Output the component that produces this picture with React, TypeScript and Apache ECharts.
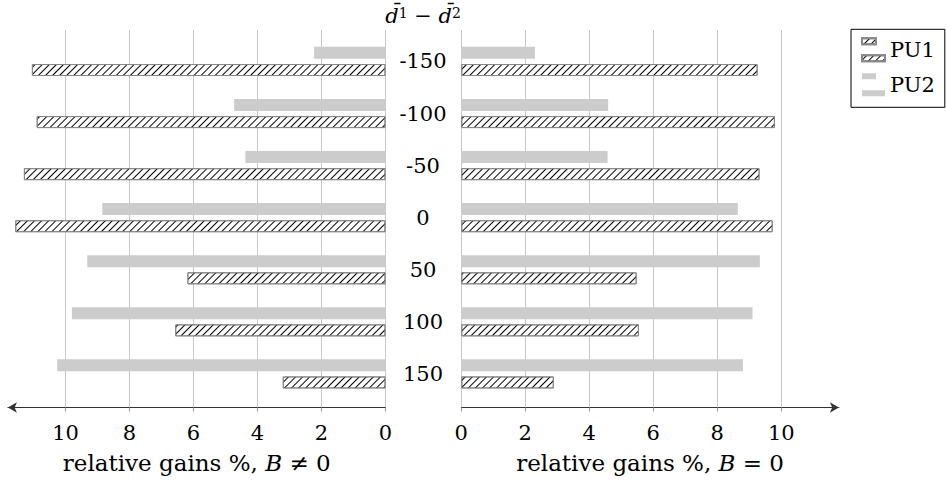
import React, { useEffect, useRef } from "react";
import * as echarts from "echarts";

const categories = ["-150", "-100", "-50", "0", "50", "100", "150"];
const leftPU1 = [11.05, 10.9, 11.3, 11.57, 6.19, 6.57, 3.21];
const leftPU2 = [2.23, 4.73, 4.38, 8.85, 9.32, 9.8, 10.26];
const rightPU1 = [9.26, 9.8, 9.32, 9.73, 5.48, 5.55, 2.89];
const rightPU2 = [2.3, 4.59, 4.57, 8.64, 9.33, 9.1, 8.8];
const tickValues = [0, 2, 4, 6, 8, 10];

const FONT = "DejaVu Serif";
const FS = 21;
const NFS = 23;

export default function App() {
  const ref = useRef<HTMLDivElement>(null);
  useEffect(() => {
    document.body.style.margin = "0";
    const chart = echarts.init(ref.current!, null, { renderer: "svg" });
    const hatch = {
      symbol: "rect",
      symbolSize: 1,
      color: "#000",
      dashArrayX: [1, 0],
      dashArrayY: [1, 3.6],
      rotation: -Math.PI / 4,
    };
    const pu1Style = { color: "#fff", borderColor: "#888", borderWidth: 1, decal: hatch };
    const pu2Style = { color: "#cccccc" };
    const gridColors = ["#c8c8c8", "#c8c8c8", "#c8c8c8", "#c8c8c8", "#c8c8c8", "#c8c8c8", "rgba(0,0,0,0)"];
    const L = 7.9, R = 461.3, W = 377.6;
    const axisCommon = (inverse: boolean, gi: number, name: string) => ({
      type: "value",
      gridIndex: gi,
      min: 0,
      max: 11.8,
      interval: 2,
      inverse,
      axisLine: {
        show: true,
        symbol: inverse ? ["arrow", "none"] : ["none", "arrow"],
        symbolSize: [8, 9],
        lineStyle: { color: "#333", width: 1 },
      },
      axisTick: { show: true, length: 4, lineStyle: { color: "#999" }, customValues: tickValues },
      axisLabel: {
        color: "#000",
        fontFamily: FONT,
        fontSize: FS,
        margin: 15,
        customValues: tickValues,
      },
      splitLine: { show: true, lineStyle: { color: gridColors, width: 1 } },
      name,
      nameLocation: "middle",
      nameGap: 44,
      nameTextStyle: {
        color: "#000",
        fontFamily: FONT,
        fontSize: NFS,
        rich: {
          r: { fontFamily: FONT, fontSize: NFS, color: "#000" },
          i: { fontFamily: FONT, fontSize: NFS, fontStyle: "italic", color: "#000" },
        },
      },
    });
    const hiddenX = (inverse: boolean, gi: number) => ({
      type: "value",
      gridIndex: gi,
      min: 0,
      max: 11.8,
      inverse,
      show: false,
      splitLine: { show: false },
    });
    const option = {
      animation: false,
      textStyle: { fontFamily: FONT },
      grid: [
        { left: L, top: 30, width: W, height: 377.5 },
        { left: R, top: 30, width: W, height: 377.5 },
        { left: L, top: 35.4, width: W, height: 364.5 },
        { left: R, top: 35.4, width: W, height: 364.5 },
      ],
      xAxis: [
        axisCommon(true, 0, "{r|relative gains %, }{i|B}{r| ≠ 0}"),
        axisCommon(false, 1, "{r|relative gains %, }{i|B}{r| = 0}"),
        hiddenX(true, 2),
        hiddenX(false, 3),
      ],
      yAxis: [
        { type: "value", gridIndex: 0, show: false, splitLine: { show: false } },
        { type: "value", gridIndex: 1, show: false, splitLine: { show: false } },
        { type: "category", gridIndex: 2, data: categories, inverse: true, show: false },
        {
          type: "category",
          gridIndex: 3,
          data: categories,
          inverse: true,
          axisLine: { show: false },
          axisTick: { show: false },
          axisLabel: {
            color: "#000",
            fontFamily: FONT,
            fontSize: FS,
            align: "center",
            margin: 38.3,
          },
        },
      ],
      legend: {
        data: ["PU1", "PU2"],
        orient: "vertical",
        left: 851,
        top: 29.3,
        padding: [8, 10, 11, 10],
        itemWidth: 23,
        itemHeight: 23,
        itemGap: 11,
        borderColor: "#000",
        borderWidth: 1,
        backgroundColor: "#fff",
        icon: "path://M0,0h14v6h-14z M0,17h23v6h-23z",
        textStyle: { color: "#000", fontFamily: FONT, fontSize: FS },
      },
      series: [
        { name: "PU2", type: "bar", xAxisIndex: 2, yAxisIndex: 2, data: leftPU2, barWidth: 12, barGap: "43%", itemStyle: pu2Style },
        { name: "PU1", type: "bar", xAxisIndex: 2, yAxisIndex: 2, data: leftPU1, barWidth: 12, barGap: "43%", itemStyle: pu1Style },
        { name: "PU2", type: "bar", xAxisIndex: 3, yAxisIndex: 3, data: rightPU2, barWidth: 12, barGap: "43%", itemStyle: pu2Style },
        { name: "PU1", type: "bar", xAxisIndex: 3, yAxisIndex: 3, data: rightPU1, barWidth: 12, barGap: "43%", itemStyle: pu1Style },
      ],
      graphic: [
        {
          type: "text",
          x: 423,
          y: 16,
          style: {
            text: "{i|d\u0304}{s|1}{m| \u2212 }{i|d\u0304}{s|2}",
            align: "center",
            verticalAlign: "middle",
            fontFamily: FONT,
            fontSize: FS,
            fill: "#000",
            rich: {
              i: { fontFamily: FONT, fontSize: FS, fontStyle: "italic", verticalAlign: "bottom" },
              s: { fontFamily: FONT, fontSize: 14, verticalAlign: "top" },
              m: { fontFamily: FONT, fontSize: FS, verticalAlign: "bottom" },
            },
          },
        },
      ],
    };
    chart.setOption(option as any);
    return () => chart.dispose();
  }, []);
  return (
    <div
      ref={ref}
      style={{ position: "absolute", left: 0, top: 0, width: 946, height: 490 }}
    />
  );
}
